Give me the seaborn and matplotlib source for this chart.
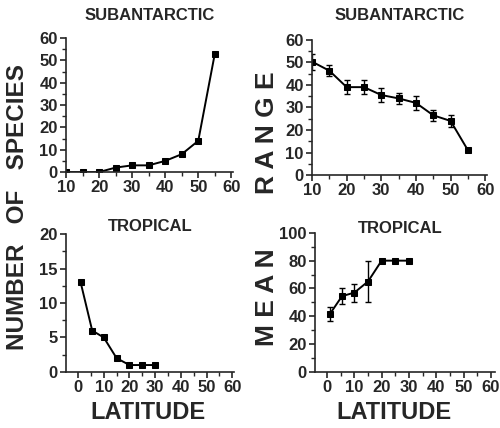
import numpy as np
import pandas as pd
import matplotlib
matplotlib.use("Agg")
import matplotlib.pyplot as plt
import seaborn as sns
from matplotlib.ticker import MultipleLocator

# datos
lat_sub = [10, 15, 20, 25, 30, 35, 40, 45, 50, 55]
n_sub = [0, 0, 0, 2, 3, 3, 5, 8, 14, 53]
rango_sub = [50.3, 46.3, 39, 39, 35.5, 34, 32, 26.5, 24, 11]
rango_err = [3.5, 2.5, 3, 3, 3, 2.5, 3, 2.5, 2.5, 0]

lat_trop = [1, 5.5, 10, 15, 20, 25, 30]
n_trop = [13, 6, 5, 2, 1, 1, 1]
media_trop = [41.5, 54.5, 57, 65, 80, 80, 80]
media_err = [5, 6, 6.5, 15, 0, 0, 0]

sns.set_style("ticks")
plt.rcParams['font.family'] = ['Liberation Sans', 'DejaVu Sans']
plt.rcParams['font.weight'] = 'bold'

fig = plt.figure(figsize=(5, 4.28), dpi=100)
ax_tl = fig.add_axes([0.132, 0.598, 0.334, 0.313])
ax_tr = fig.add_axes([0.624, 0.591, 0.350, 0.316])
ax_bl = fig.add_axes([0.132, 0.131, 0.336, 0.322])
ax_br = fig.add_axes([0.630, 0.131, 0.360, 0.325])

df_sub = pd.DataFrame({'lat': lat_sub, 'n': n_sub, 'rango': rango_sub, 'err': rango_err})
df_trop = pd.DataFrame({'lat': lat_trop, 'n': n_trop, 'media': media_trop, 'err': media_err})

kw = dict(color='black', marker='s', markersize=5, linewidth=1.4, markeredgecolor='black')
sns.lineplot(data=df_sub, x='lat', y='n', ax=ax_tl, **kw)
sns.lineplot(data=df_sub, x='lat', y='rango', ax=ax_tr, **kw)
ax_tr.errorbar(df_sub['lat'], df_sub['rango'], yerr=df_sub['err'], fmt='none',
               ecolor='black', elinewidth=1, capsize=2.5)
sns.lineplot(data=df_trop, x='lat', y='n', ax=ax_bl, **kw)
sns.lineplot(data=df_trop, x='lat', y='media', ax=ax_br, **kw)
ax_br.errorbar(df_trop['lat'], df_trop['media'], yerr=df_trop['err'], fmt='none',
               ecolor='black', elinewidth=1, capsize=2.5)

ax_tl.set_xlim(10, 60.5); ax_tl.set_ylim(0, 60)
ax_tr.set_xlim(10, 60.5); ax_tr.set_ylim(0, 60)
ax_bl.set_xlim(-4.7, 60.7); ax_bl.set_ylim(0, 20)
ax_br.set_xlim(-4.4, 61.5); ax_br.set_ylim(0, 100)

ax_tl.yaxis.set_major_locator(MultipleLocator(10)); ax_tl.yaxis.set_minor_locator(MultipleLocator(5))
ax_tr.yaxis.set_major_locator(MultipleLocator(10)); ax_tr.yaxis.set_minor_locator(MultipleLocator(5))
ax_bl.yaxis.set_major_locator(MultipleLocator(5)); ax_bl.yaxis.set_minor_locator(MultipleLocator(2.5))
ax_br.yaxis.set_major_locator(MultipleLocator(20)); ax_br.yaxis.set_minor_locator(MultipleLocator(10))

for ax in [ax_tl, ax_tr, ax_bl, ax_br]:
    ax.xaxis.set_major_locator(MultipleLocator(10))
    ax.xaxis.set_minor_locator(MultipleLocator(5))
    ax.set_xlabel('')
    ax.set_ylabel('')
    sns.despine(ax=ax)
    ax.spines['left'].set_linewidth(1.2)
    ax.spines['bottom'].set_linewidth(1.2)
    ax.tick_params(which='major', length=4, width=1.2, labelsize=12, pad=2)
    ax.tick_params(which='minor', length=3, width=1)
    for lab in ax.get_xticklabels() + ax.get_yticklabels():
        lab.set_fontweight('bold')

# titulos
fig.text(0.30, 0.963, 'SUBANTARCTIC', ha='center', va='center', fontsize=12, fontweight='bold')
fig.text(0.80, 0.963, 'SUBANTARCTIC', ha='center', va='center', fontsize=12, fontweight='bold')
fig.text(0.30, 0.470, 'TROPICAL', ha='center', va='center', fontsize=12, fontweight='bold')
fig.text(0.80, 0.467, 'TROPICAL', ha='center', va='center', fontsize=12, fontweight='bold')

# etiquetas de ejes
fig.text(0.035, 0.516, 'NUMBER   OF   SPECIES', rotation=90, ha='center', va='center',
         fontsize=17.5, fontweight='bold')
fig.text(0.535, 0.69, 'R A N G E', rotation=90, ha='center', va='center',
         fontsize=19, fontweight='bold')
fig.text(0.535, 0.305, 'M E A N', rotation=90, ha='center', va='center',
         fontsize=19, fontweight='bold')
fig.text(0.295, 0.037, 'LATITUDE', ha='center', va='center', fontsize=17, fontweight='bold')
fig.text(0.787, 0.037, 'LATITUDE', ha='center', va='center', fontsize=17, fontweight='bold')

fig.savefig('out.png', dpi=100)
